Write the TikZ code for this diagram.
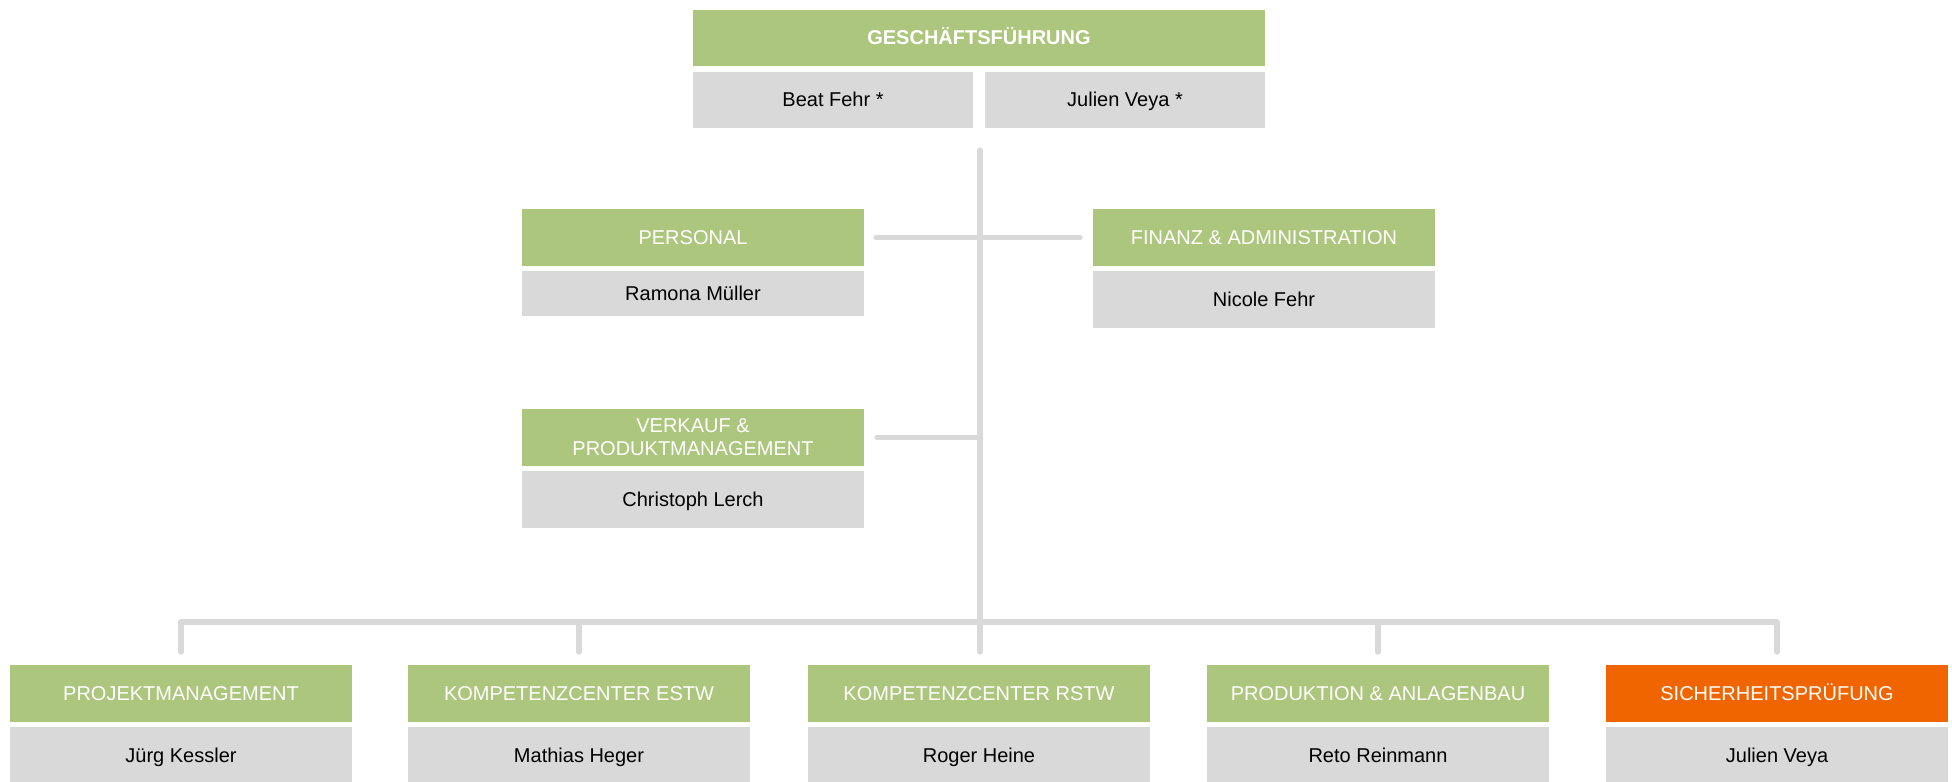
\documentclass[tikz,border=0pt]{standalone}
\usepackage{fontspec}
\setmainfont{Liberation Sans}
\usetikzlibrary{calc}
\definecolor{hgreen}{RGB}{173,198,126}
\definecolor{horange}{RGB}{240,101,0}
\definecolor{hgray}{RGB}{217,217,217}
\definecolor{lgray}{RGB}{217,217,217}
\tikzset{
  box/.style={rectangle, inner sep=0pt, outer sep=0pt, align=center,
    text height=7.8pt, text depth=1.2pt,
    font=\fontsize{10}{11.5}\selectfont},
  head/.style={box, fill=hgreen, text=white, minimum height=28.5pt},
  orangehead/.style={box, fill=horange, text=white, minimum height=28.5pt},
  namebox/.style={box, fill=hgray, text=black, minimum height=28.5pt},
  wide/.style={minimum width=171pt},
  bottomw/.style={minimum width=171pt},
  conn/.style={draw=lgray, line width=2.6pt, line cap=round}
}
\begin{document}
\begin{tikzpicture}[x=0.5pt,y=-0.5pt]
\clip (0,0) rectangle (1952,781);
\fill[white] (0,0) rectangle (1952,781);

% top
\node[head, minimum width=286pt, minimum height=28pt, font=\fontsize{10}{11.5}\selectfont\bfseries] (gf) at (979,38) {GESCHÄFTSFÜHRUNG};
\node[namebox, minimum width=140pt, minimum height=28pt] (beat) at (833,100) {Beat Fehr *};
\node[namebox, minimum width=140pt, minimum height=28pt] (julien) at (1125,100) {Julien Veya *};

% middle
\node[head, wide] (personal) at (693,237.5) {PERSONAL};
\node[namebox, wide, minimum height=22.5pt] (ramona) at (693,293.5) {Ramona Müller};
\node[head, wide] (finanz) at (1264,237.5) {FINANZ \& ADMINISTRATION};
\node[namebox, wide] (nicole) at (1264,299.5) {Nicole Fehr};
\node[head, wide, text height=, text depth=] (verkauf) at (693,437.5) {VERKAUF \&\\PRODUKTMANAGEMENT};
\node[namebox, wide] (christoph) at (693,499.5) {Christoph Lerch};

% bottom
\node[head, bottomw] (projekt) at (181,693.5) {PROJEKTMANAGEMENT};
\node[namebox, bottomw] (kessler) at (181,755.5) {Jürg Kessler};
\node[head, bottomw] (estw) at (579,693.5) {KOMPETENZCENTER ESTW};
\node[namebox, bottomw] (heger) at (579,755.5) {Mathias Heger};
\node[head, bottomw] (rstw) at (979,693.5) {KOMPETENZCENTER RSTW};
\node[namebox, bottomw] (heine) at (979,755.5) {Roger Heine};
\node[head, bottomw] (produktion) at (1378,693.5) {PRODUKTION \& ANLAGENBAU};
\node[namebox, bottomw] (reinmann) at (1378,755.5) {Reto Reinmann};
\node[orangehead, bottomw] (sicher) at (1777,693.5) {SICHERHEITSPRÜFUNG};
\node[namebox, bottomw] (veya) at (1777,755.5) {Julien Veya};

% connectors
\coordinate (ttop) at (980,150);
\coordinate (bus) at (980,622);
\draw[conn] (ttop) -- (ttop |- {$(rstw.north)+(0,-13)$});
\draw[conn] ([xshift=6pt]personal.east) -- ([xshift=-6.5pt]finanz.west);
\draw[conn] ([xshift=6.5pt]verkauf.east) -- (verkauf.east -| ttop);
\draw[conn] (projekt.north |- bus) -- (sicher.north |- bus);
\foreach \b in {projekt,estw,produktion,sicher}{
  \draw[conn] (\b.north |- bus) -- ($(\b.north)+(0,-13)$);
}
\end{tikzpicture}
\end{document}
